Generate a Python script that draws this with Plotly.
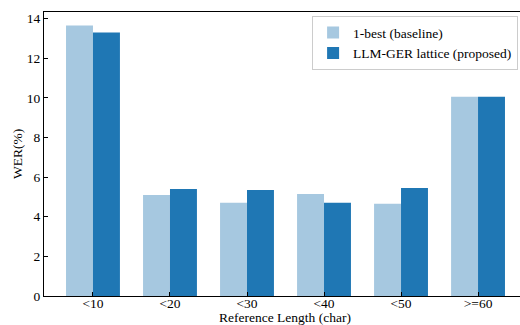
import plotly.graph_objects as go

categories = ["<10", "<20", "<30", "<40", "<50", ">=60"]
baseline = [13.65, 5.10, 4.70, 5.15, 4.65, 10.05]
proposed = [13.30, 5.40, 5.35, 4.70, 5.45, 10.05]
y_ticks = [0, 2, 4, 6, 8, 10, 12, 14]

font = dict(family="Liberation Serif, Times New Roman, serif", size=13.5, color="black")

fig = go.Figure()
fig.add_trace(go.Bar(x=categories, y=baseline, name="1-best (baseline)",
                     marker=dict(color="#a6c8e0", line=dict(width=0))))
fig.add_trace(go.Bar(x=categories, y=proposed, name="LLM-GER lattice (proposed)",
                     marker=dict(color="#1f77b4", line=dict(width=0))))

fig.update_layout(
    width=520, height=325,
    margin=dict(l=44, r=0, t=12, b=29),
    paper_bgcolor="white", plot_bgcolor="white",
    font=font,
    barmode="group", bargap=0.3, bargroupgap=0,
    showlegend=True,
    legend=dict(x=0.996, xanchor="right", y=0.985, yanchor="top",
                bgcolor="white", bordercolor="#cccccc", borderwidth=1,
                font=font, tracegroupgap=0),
    xaxis=dict(type="category", range=[-0.636, 5.545], showline=True, linecolor="black",
               linewidth=1, mirror=True, ticks="inside", ticklen=4, tickcolor="black",
               showgrid=False, tickfont=font, ticklabelstandoff=-5),
    yaxis=dict(range=[0, 14.33], tickvals=y_ticks, showline=True, linecolor="black",
               linewidth=1, mirror=False, ticks="inside", ticklen=4, tickcolor="black",
               showgrid=False, zeroline=False, tickfont=font,
               title=dict(text="WER(%)", font=font, standoff=1)),
    annotations=[dict(text="Reference Length (char)", xref="paper", yref="paper",
                      x=(285 - 44) / 476, y=-(317 - 296) / 284, xanchor="center",
                      yanchor="middle", showarrow=False, font=font)],
)

fig.write_html("out.html")
